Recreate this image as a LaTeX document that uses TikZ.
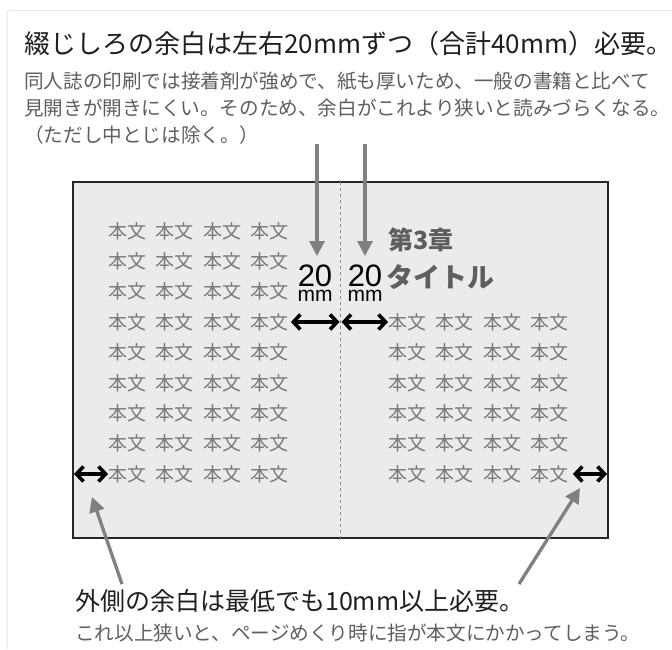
\documentclass[tikz,border=0pt]{standalone}
\usepackage{fontspec}
\setmainfont{Noto Sans CJK JP}
\newfontfamily\latinsans{Liberation Sans}
\usetikzlibrary{arrows.meta,positioning}
\definecolor{pagegray}{HTML}{EBEBEB}
\definecolor{bodygray}{HTML}{7A7A7A}
\definecolor{notegray}{HTML}{5E5E5E}
\definecolor{arrowgray}{HTML}{808080}
\definecolor{framegray}{HTML}{E6E6E6}
\newcommand{\fsize}[1]{\fontsize{#1}{#1}\selectfont}
\newcommand{\honbun}{本文\hspace{0.5em}本文\hspace{0.5em}本文\hspace{0.5em}本文}

\begin{document}
\begin{tikzpicture}[
  x=1pt, y=-1pt,
  heading/.style={anchor=west, inner sep=0pt, font=\fsize{26}, text=black!88},
  note/.style={anchor=west, inner sep=0pt, font=\fsize{19.6}, text=notegray},
  body/.style={inner sep=0pt, font=\fsize{19}, text=bodygray},
  pagebox/.style={draw=black!85, line width=1.5pt, fill=pagegray, outer sep=0pt},
  fold/.style={draw=black!45, dash pattern=on 3pt off 3pt, line width=1pt},
  pointer/.style={draw=arrowgray, line width=3.3pt, -{Triangle[length=15pt, width=15pt]}},
  span/.style={draw=black, line width=3.6pt, {Straight Barb[length=7pt, width=15pt]}-{Straight Barb[length=7pt, width=15pt]}},
  dimlabel/.style={inner sep=0pt, align=center, font=\latinsans\fontsize{21}{15}\selectfont},
  node distance=30.4pt
]
\useasboundingbox (0,0) rectangle (672,649);
\draw[framegray, line width=1pt, rounded corners=3pt] (7,649) |- (672,10.5);

\node[heading] (title) at (24,44) {綴じしろの余白は左右20mmずつ（合計40mm）必要。};
\node[note] (note1) at (24,81) {同人誌の印刷では接着剤が強めで、紙も厚いため、一般の書籍と比べて};
\node[note, below=27pt of note1.base west, anchor=base west] (note2) {見開きが開きにくい。そのため、余白がこれより狭いと読みづらくなる。};
\node[note, below=27pt of note2.base west, anchor=base west] (note3) {（ただし中とじは除く。）};

\node[pagebox, minimum width=535pt, minimum height=356pt] (book) at (340.5,360) {};
\draw[fold] (book.north) -- (book.south);

\node[body, anchor=base west] (l1) at (108,238) {\honbun};
\node[body, below=of l1.base west, anchor=base west] (l2) {\honbun};
\node[body, below=of l2.base west, anchor=base west] (l3) {\honbun};
\node[body, below=of l3.base west, anchor=base west] (l4) {\honbun};
\node[body, below=of l4.base west, anchor=base west] (l5) {\honbun};
\node[body, below=of l5.base west, anchor=base west] (l6) {\honbun};
\node[body, below=of l6.base west, anchor=base west] (l7) {\honbun};
\node[body, below=of l7.base west, anchor=base west] (l8) {\honbun};
\node[body, below=of l8.base west, anchor=base west] (l9) {\honbun};

\node[body, anchor=base west] (r1) at (388,329.2) {\honbun};
\node[body, below=of r1.base west, anchor=base west] (r2) {\honbun};
\node[body, below=of r2.base west, anchor=base west] (r3) {\honbun};
\node[body, below=of r3.base west, anchor=base west] (r4) {\honbun};
\node[body, below=of r4.base west, anchor=base west] (r5) {\honbun};
\node[body, below=of r5.base west, anchor=base west] (r6) {\honbun};

\node[anchor=west, inner sep=0pt, font=\bfseries\fsize{25}, text=notegray] (chapter) at (388,240) {第3章};
\node[anchor=west, inner sep=0pt, font=\bfseries\fsize{27}, text=notegray] (chaptitle) at (386,277) {タイトル};

\node[dimlabel] (dimL) at (315,283) {{\fsize{31}20}\\mm};
\node[dimlabel] (dimR) at (365,283) {{\fsize{31}20}\\mm};

\coordinate (dropL) at (317,144);
\coordinate (tipL) at (317,256);
\coordinate (dropR) at (365,144);
\coordinate (tipR) at (365,256);
\draw[pointer] (dropL) -- (tipL);
\draw[pointer] (dropR) -- (tipR);

\draw[span, shorten <=2pt, shorten >=1pt] (l4.east) -- (book.north |- l4.east);
\draw[span, shorten <=1pt] (book.north |- r1.west) -- (r1.west);
\draw[span, shorten <=1pt] (book.west |- l9.west) -- (l9.west);
\draw[span, shorten <=4pt, shorten >=1pt] (r6.east) -- (book.east |- r6.east);

\node[heading, font=\fsize{25}] (outer) at (75,601) {外側の余白は最低でも10mm以上必要。};
\node[note, below=30pt of outer.base west, anchor=base west] (outernote) {これ以上狭いと、ページめくり時に指が本文にかかってしまう。};

\coordinate (handL) at (122,584);
\coordinate (pointL) at (92,497);
\coordinate (handR) at (519,584);
\coordinate (pointR) at (580,488);
\draw[pointer] (handL) -- (pointL);
\draw[pointer] (handR) -- (pointR);
\end{tikzpicture}
\end{document}
